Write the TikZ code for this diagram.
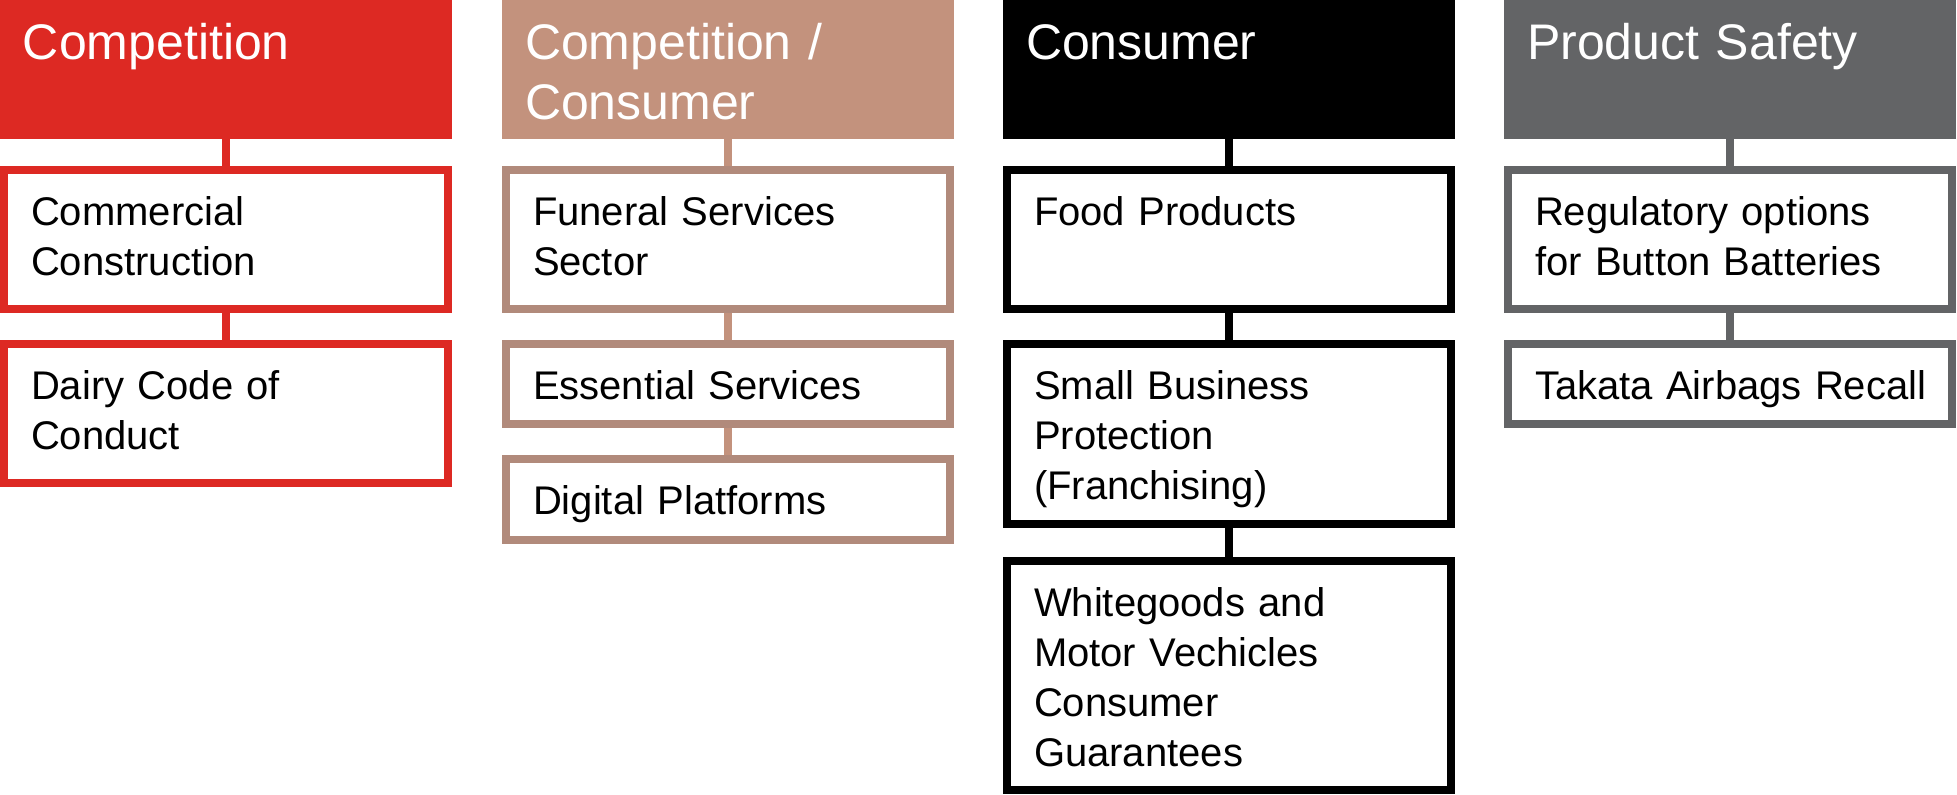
\documentclass[tikz,border=0pt]{standalone}
\usepackage{fontspec}
\setmainfont{Liberation Sans}
\definecolor{cred}{HTML}{DD2923}
\definecolor{ctan}{HTML}{C3927D}
\definecolor{ctanb}{HTML}{B18A7B}
\definecolor{cblack}{HTML}{000000}
\definecolor{cgray}{HTML}{636466}
\begin{document}
\begin{tikzpicture}[x=1pt,y=-1pt,
  every node/.style={outer sep=0pt, inner sep=0pt},
  head/.style={fill=#1, minimum width=452pt, minimum height=139pt, anchor=north west},
  item/.style={draw=#1, line width=8pt, fill=white, anchor=north west, minimum width=444pt},
  headtext/.style={text=white, font=\fontsize{50}{60}\selectfont, text width=420pt, align=left, anchor=base west},
  itemtext/.style={text=black, font=\fontsize{40}{50}\selectfont, text width=415pt, align=left, anchor=base west},
  link/.style={draw=#1, line width=8pt, shorten >=4pt},
  linkb/.style={draw=#1, line width=8pt, shorten >=4pt, shorten <=4pt}
]
\useasboundingbox (0,0) rectangle (1957,795);

% Column 1: Competition
\node[head=cred] (h1) at (0,0) {};
\node[headtext] (t1) at (23,59) {Competition};
\node[item=cred, minimum height=139pt] (c1a) at (4,170) {};
\node[itemtext] (t1a) at (31,225) {Commercial\\Construction};
\node[item=cred, minimum height=139pt] (c1b) at (4,344) {};
\node[itemtext] (t1b) at (31,399) {Dairy Code of\\Conduct};
\draw[link=cred] (h1.south) -- (c1a.north);
\draw[linkb=cred] (c1a.south) -- (c1b.north);

% Column 2: Competition / Consumer
\node[head=ctan] (h2) at (502,0) {};
\node[headtext] (t2) at (525,59) {Competition /\\Consumer};
\node[item=ctanb, minimum height=139pt] (c2a) at (506,170) {};
\node[itemtext] (t2a) at (533,225) {Funeral Services\\Sector};
\node[item=ctanb, minimum height=80pt] (c2b) at (506,344) {};
\node[itemtext] (t2b) at (533,399) {Essential Services};
\node[item=ctanb, minimum height=81pt] (c2c) at (506,459) {};
\node[itemtext] (t2c) at (533,514) {Digital Platforms};
\draw[link=ctan] (h2.south) -- (c2a.north);
\draw[linkb=ctan] (c2a.south) -- (c2b.north);
\draw[linkb=ctan] (c2b.south) -- (c2c.north);

% Column 3: Consumer
\node[head=cblack] (h3) at (1003,0) {};
\node[headtext] (t3) at (1026,59) {Consumer};
\node[item=cblack, minimum height=139pt] (c3a) at (1007,170) {};
\node[itemtext] (t3a) at (1034,225) {Food Products};
\node[item=cblack, minimum height=180pt] (c3b) at (1007,344) {};
\node[itemtext] (t3b) at (1034,399) {Small Business\\Protection\\(Franchising)};
\node[item=cblack, minimum height=229pt] (c3c) at (1007,561) {};
\node[itemtext] (t3c) at (1034,616) {Whitegoods and\\Motor Vechicles\\Consumer\\Guarantees};
\draw[link=cblack] (h3.south) -- (c3a.north);
\draw[linkb=cblack] (c3a.south) -- (c3b.north);
\draw[linkb=cblack] (c3b.south) -- (c3c.north);

% Column 4: Product Safety
\node[head=cgray] (h4) at (1504,0) {};
\node[headtext] (t4) at (1527,59) {Product Safety};
\node[item=cgray, minimum height=139pt] (c4a) at (1508,170) {};
\node[itemtext] (t4a) at (1535,225) {Regulatory options\\for Button Batteries};
\node[item=cgray, minimum height=80pt] (c4b) at (1508,344) {};
\node[itemtext] (t4b) at (1535,399) {Takata Airbags Recall};
\draw[link=cgray] (h4.south) -- (c4a.north);
\draw[linkb=cgray] (c4a.south) -- (c4b.north);
\end{tikzpicture}
\end{document}
